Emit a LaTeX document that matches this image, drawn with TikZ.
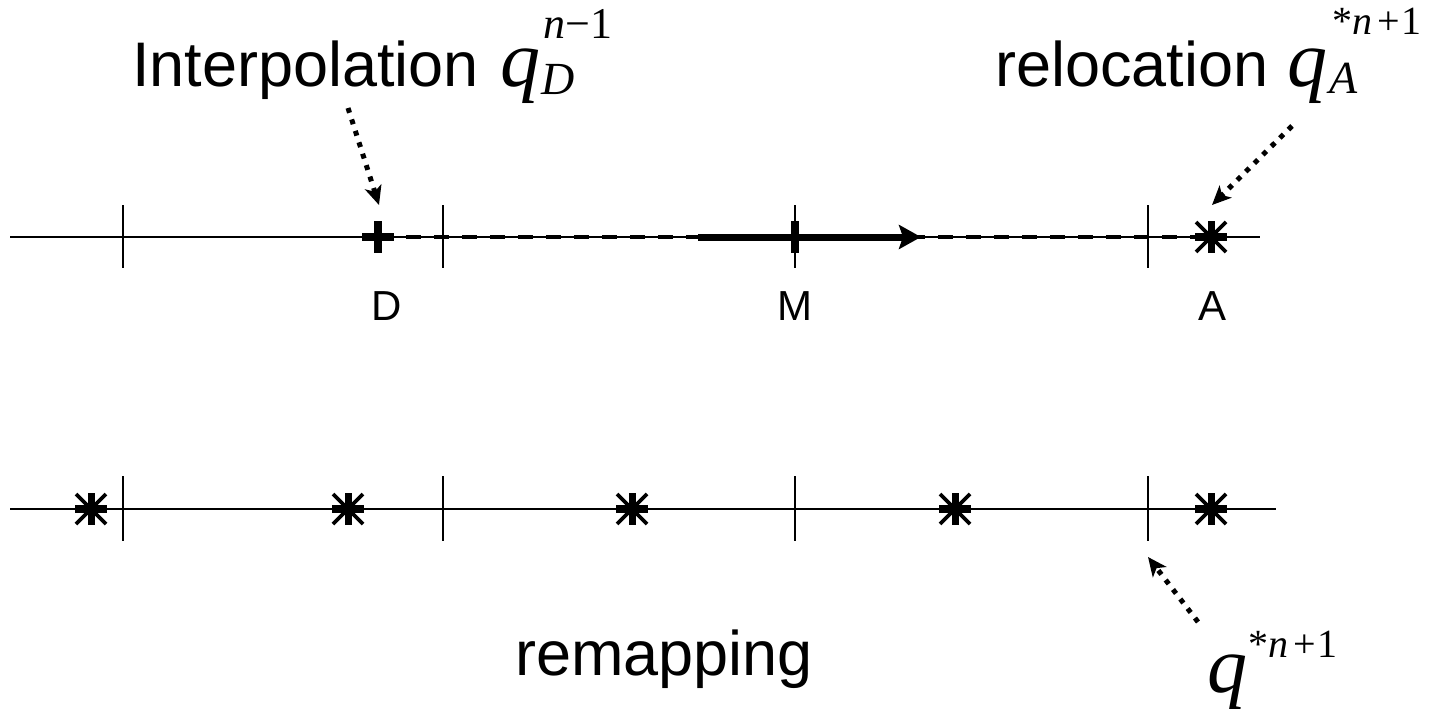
\documentclass[tikz,border=0pt]{standalone}
\usepackage{fontspec}
\setmainfont{Liberation Sans}
\newfontfamily\tms{Liberation Serif}
\usetikzlibrary{arrows.meta}
\begin{document}
\begin{tikzpicture}[x=1pt,y=-1pt,
  axis/.style={line width=1.8pt},
  tickmark/.style={line width=1.8pt},
  dotarrow/.style={line width=5pt, dash pattern=on 5pt off 7pt,
    -{Stealth[length=19pt,width=17pt,inset=5pt]}},
  dashline/.style={line width=4pt, dash pattern=on 15pt off 13pt},
  bigarrow/.style={line width=7pt, -{Stealth[length=22pt,width=24pt,inset=4pt]}},
  lbl/.style={inner sep=0pt, anchor=base west},
  bigtext/.style={lbl, font=\fontsize{63pt}{70pt}\selectfont},
  ptlabel/.style={inner sep=0pt, anchor=base, font=\fontsize{42pt}{48pt}\selectfont},
  qsym/.style={lbl, font=\fontsize{80pt}{90pt}\selectfont\tms\itshape},
  subsym/.style={lbl, font=\fontsize{46pt}{52pt}\selectfont\tms\itshape},
  supsym/.style={lbl, font=\fontsize{40pt}{46pt}\selectfont\tms},
  astpic/.pic={
    \draw[line width=7pt] (0,-16) -- (0,16);
    \draw[line width=7.5pt] (-16,0) -- (16,0);
    \draw[line width=3.8pt] (-15,-15) -- (15,15) (-15,15) -- (15,-15);
  },
  pluspic/.pic={
    \draw[line width=7.5pt] (0,-16) -- (0,16);
    \draw[line width=7.5pt] (-16,0) -- (16,0);
  }
]
\useasboundingbox (0,0) rectangle (1433,709);

% ---------- top line ----------
\coordinate (t0) at (10,237);
\coordinate (t1) at (1260,237);
\draw[axis] (t0) -- (t1);
\foreach \x [count=\i] in {123,443,795,1148}{
  \coordinate (tt\i a) at (\x,205);
  \coordinate (tt\i b) at (\x,268);
  \draw[tickmark] (tt\i a) -- (tt\i b);
}
\coordinate (D) at (378,237);
\coordinate (M) at (795,237);
\coordinate (A) at (1211,237);
\draw[dashline] (D) -- (A);
\coordinate (arrS) at (698,237);
\coordinate (arrE) at (921,237);
\draw[bigarrow] (arrS) -- (arrE);
\coordinate (Ma) at (795,221);
\coordinate (Mb) at (795,253);
\draw[line width=8pt] (Ma) -- (Mb);
\pic at (D) {pluspic};
\pic at (A) {astpic};

\node[ptlabel] (lD) at (387,320) {D};
\node[ptlabel] (lM) at (795,320) {M};
\node[ptlabel] (lA) at (1212,320) {A};

% ---------- bottom line ----------
\coordinate (b0) at (10,509);
\coordinate (b1) at (1276,509);
\draw[axis] (b0) -- (b1);
\foreach \x [count=\i] in {123,443,795,1148}{
  \coordinate (bt\i a) at (\x,476);
  \coordinate (bt\i b) at (\x,541);
  \draw[tickmark] (bt\i a) -- (bt\i b);
}
\foreach \x [count=\i] in {91,348,632,955,1211}{
  \coordinate (s\i) at (\x,509);
  \pic at (s\i) {astpic};
}

% ---------- labels ----------
\node[bigtext] (interp) at (132,86) {Interpolation};
\node[qsym] (q1) at (500,86) {q};
\node[subsym] (q1d) at (541,95) {D};
\node[supsym, font=\fontsize{44pt}{50pt}\selectfont\tms] (q1n) at (543,39) {\textit{n}−1};

\node[bigtext] (reloc) at (995,86) {relocation};
\node[qsym] (q2) at (1287,86) {q};
\node[subsym] (q2a) at (1329,93) {A};
\node[supsym] (q2n) at (1332,35) {*\textit{n}\kern5pt+\kern2pt1};

\node[bigtext] (remap) at (515,675) {remapping};
\node[qsym] (q3) at (1207,692) {q};
\node[supsym] (q3n) at (1248,657) {*\textit{n}\kern5pt+\kern2pt1};

% ---------- dotted arrows ----------
\coordinate (d1s) at (348,108);
\coordinate (d1e) at (379,205);
\draw[dotarrow] (d1s) -- (d1e);
\coordinate (d2s) at (1292,126);
\coordinate (d2e) at (1212,205);
\draw[dotarrow] (d2s) -- (d2e);
\coordinate (d3s) at (1198,622);
\coordinate (d3e) at (1148,557);
\draw[dotarrow] (d3s) -- (d3e);
\end{tikzpicture}
\end{document}
